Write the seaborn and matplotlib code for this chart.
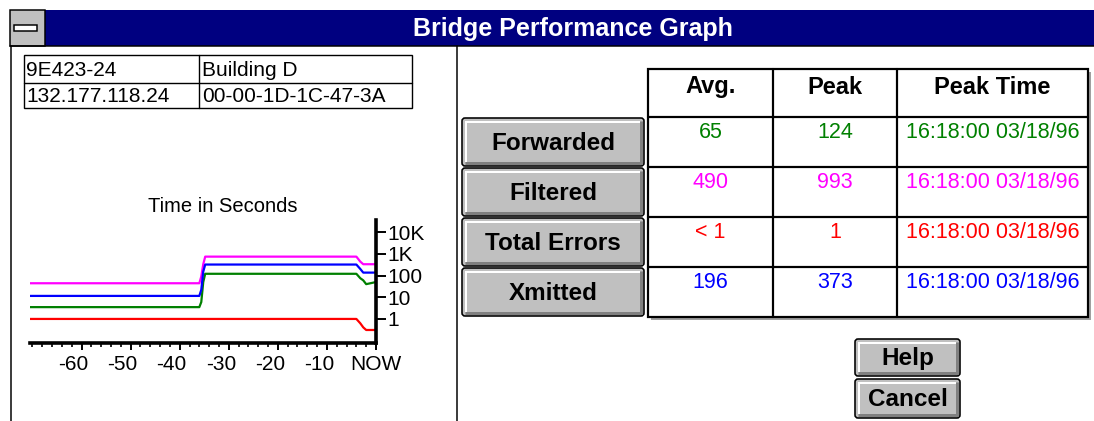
import numpy as np
import pandas as pd
import matplotlib
matplotlib.use("Agg")
import matplotlib.pyplot as plt
import matplotlib.transforms as mtransforms
from matplotlib.patches import Rectangle, FancyBboxPatch
from matplotlib.ticker import MultipleLocator, NullLocator
import seaborn as sns

# ---------------- data ----------------
window_title = "Bridge Performance Graph"
info_cells = [["9E423-24", "Building D"], ["132.177.118.24", "00-00-1D-1C-47-3A"]]
chart_title = "Time in Seconds"

time_s = [-70.5, -36.0, -35.6, -35.2, -34.8, -4.0, -3.2, -2.6, -2.0, 0.0]
forwarded = [3.5, 3.5, 6, 50, 120, 120, 75, 60, 40, 50]
filtered = [44, 44, 90, 330, 740, 740, 437, 331, 331, 331]
total_errors = [1, 1, 1, 1, 1, 1, 0.63, 0.41, 0.31, 0.31]
xmitted = [11.5, 11.5, 22, 150, 320, 320, 200, 136, 136, 136]

x_ticks = [-60, -50, -40, -30, -20, -10, 0]
x_tick_labels = ["-60", "-50", "-40", "-30", "-20", "-10", "NOW"]
y_ticks = [1, 10, 100, 1000, 10000]
y_tick_labels = ["1", "10", "100", "1K", "10K"]

col_headers = ["Avg.", "Peak", "Peak Time"]
row_labels = ["Forwarded", "Filtered", "Total Errors", "Xmitted"]
avg_values = ["65", "490", "< 1", "196"]
peak_values = ["124", "993", "1", "373"]
peak_times = ["16:18:00 03/18/96"] * 4
row_colors = ["#008000", "#FF00FF", "#FF0000", "#0000FF"]
dialog_buttons = ["Help", "Cancel"]

# ---------------- style ----------------
sns.set_style("ticks")
plt.rcParams['font.family'] = ['Liberation Sans', 'DejaVu Sans']
plt.rcParams['text.color'] = 'black'
plt.rcParams['xtick.color'] = 'black'
plt.rcParams['ytick.color'] = 'black'
plt.rcParams['axes.labelcolor'] = 'black'

W, H = 1094, 421
fig = plt.figure(figsize=(W / 100, H / 100), dpi=100)
fig.patch.set_facecolor("white")

# background "window" axes in pixel coordinates
bg = fig.add_axes([0, 0, 1, 1])
bg.set_xlim(0, W)
bg.set_ylim(H, 0)
bg.axis("off")

PX = 0.72  # points per pixel

# title bar
bg.add_patch(Rectangle((10, 10), W - 10, 36, fc="#000080", ec="none"))
bg.add_patch(Rectangle((10, 10), 35, 36, fc="#C0C0C0", ec="black", lw=1.5 * PX))
bg.add_patch(Rectangle((14, 25), 23, 6, fc="white", ec="black", lw=1.5 * PX))
bg.plot([10, W], [46, 46], color="black", lw=1.5 * PX)
bg.text(573, 29, window_title, color="white", fontsize=18, fontweight="bold",
        ha="center", va="center")

# window border and divider
bg.plot([10.5, 10.5], [46, H], color="black", lw=1.5 * PX)
bg.plot([457, 457], [46, H], color="black", lw=1.5 * PX)

# info box
bx0, bx1, by0, by1, bxm, bym = 24, 412, 55, 108, 199, 83
bg.add_patch(Rectangle((bx0, by0), bx1 - bx0, by1 - by0, fc="none", ec="black", lw=1.4 * PX))
bg.plot([bx0, bx1], [bym, bym], color="black", lw=1.4 * PX)
bg.plot([bxm, bxm], [by0, by1], color="black", lw=1.4 * PX)
for r, row in enumerate(info_cells):
    yc = (by0 + bym) / 2 + 1 if r == 0 else (bym + by1) / 2 + 1
    bg.text(bx0 + 2, yc, row[0], fontsize=15, ha="left", va="center")
    bg.text(bxm + 3, yc, row[1], fontsize=15, ha="left", va="center")

bg.text(223, 207, chart_title, fontsize=14.5, ha="center", va="center")


def button(x0, y0, x1, y1, label, fs):
    bg.add_patch(FancyBboxPatch((x0 + 2, y0 + 2), x1 - x0 - 4, y1 - y0 - 4,
                                boxstyle="round,pad=2,rounding_size=3",
                                fc="#C0C0C0", ec="black", lw=1.6 * PX))
    bg.plot([x0 + 3, x1 - 4], [y0 + 3.5, y0 + 3.5], color="white", lw=2 * PX, solid_capstyle="butt")
    bg.plot([x0 + 3.5, x0 + 3.5], [y0 + 3, y1 - 4], color="white", lw=2 * PX, solid_capstyle="butt")
    bg.plot([x0 + 3, x1 - 2], [y1 - 3, y1 - 3], color="#808080", lw=3 * PX, solid_capstyle="butt")
    bg.plot([x1 - 3, x1 - 3], [y0 + 3, y1 - 2], color="#808080", lw=3 * PX, solid_capstyle="butt")
    bg.text((x0 + x1) / 2, (y0 + y1) / 2 + 1, label, fontsize=fs, fontweight="bold",
            ha="center", va="center", color="black")


# stats table
col_x = [648, 773, 897, 1088]
row_y = [69, 117, 167, 217, 267, 317]
tlw = 2.2 * PX
bg.add_patch(Rectangle((col_x[-1], row_y[0] + 3), 3, row_y[-1] - row_y[0], fc="#A0A0A0", ec="none"))
bg.add_patch(Rectangle((col_x[0] + 3, row_y[-1]), col_x[-1] - col_x[0], 3, fc="#A0A0A0", ec="none"))
bg.add_patch(Rectangle((col_x[0], row_y[0]), col_x[-1] - col_x[0], row_y[-1] - row_y[0],
                       fc="white", ec="black", lw=tlw))
for yy in row_y[1:-1]:
    bg.plot([col_x[0], col_x[-1]], [yy, yy], color="black", lw=tlw)
for xx in col_x[1:-1]:
    bg.plot([xx, xx], [row_y[0], row_y[-1]], color="black", lw=tlw)
for j, hdr in enumerate(col_headers):
    bg.text((col_x[j] + col_x[j + 1]) / 2, 87, hdr, fontsize=17, fontweight="bold",
            ha="center", va="center")
for i in range(len(row_labels)):
    yt = row_y[i + 1] + 15
    cells = [avg_values[i], peak_values[i], peak_times[i]]
    for j, val in enumerate(cells):
        bg.text((col_x[j] + col_x[j + 1]) / 2, yt, val, fontsize=15.5, color=row_colors[i],
                ha="center", va="center")
    button(462, row_y[i + 1] + 1, 644, row_y[i + 1] + 49, row_labels[i], 17.5)

button(855, 339, 960, 376, dialog_buttons[0], 17.5)
button(855, 379, 960, 418, dialog_buttons[1], 17.5)

# ---------------- chart ----------------
ax_left, ax_right, ax_top, ax_bottom = 30, 376, 220, 343
ax = fig.add_axes([ax_left / W, (H - ax_bottom) / H, (ax_right - ax_left) / W, (ax_bottom - ax_top) / H])
ax.set_facecolor("none")

series = {"Forwarded": forwarded, "Filtered": filtered,
          "Total Errors": total_errors, "Xmitted": xmitted}
palette = dict(zip(row_labels, row_colors))
df = pd.concat([pd.DataFrame({"time": time_s, "value": v, "series": k}) for k, v in series.items()],
               ignore_index=True)
sns.lineplot(data=df, x="time", y="value", hue="series", palette=palette, legend=False,
             estimator=None, sort=False, linewidth=1.6, ax=ax)

ax.set_yscale("log")
ax.set_xlim(-70.5, 0)
ax.set_ylim(0.078, 36000)
for s in ["top", "left"]:
    ax.spines[s].set_visible(False)
for s in ["bottom", "right"]:
    ax.spines[s].set_linewidth(2.6)
    ax.spines[s].set_color("black")
ax.yaxis.tick_right()
ax.set_yticks(y_ticks, y_tick_labels)
ax.yaxis.set_minor_locator(NullLocator())
ax.tick_params(axis="y", which="major", length=7, width=1.4, pad=1.5, labelsize=15,
               direction="out", right=True, left=False)
ax.set_xticks(x_ticks, x_tick_labels)
ax.xaxis.set_minor_locator(MultipleLocator(2))
ax.tick_params(axis="x", which="major", length=5, width=1.4, pad=4, labelsize=15, direction="out")
ax.tick_params(axis="x", which="minor", length=3, width=1.2, direction="out")
ax.set_xlabel("")
ax.set_ylabel("")
offset = mtransforms.ScaledTranslation(-0.08, 0, fig.dpi_scale_trans)
for lbl in ax.get_xticklabels()[:-1]:
    lbl.set_transform(lbl.get_transform() + offset)

fig.savefig("out.png", dpi=100, facecolor="white")
